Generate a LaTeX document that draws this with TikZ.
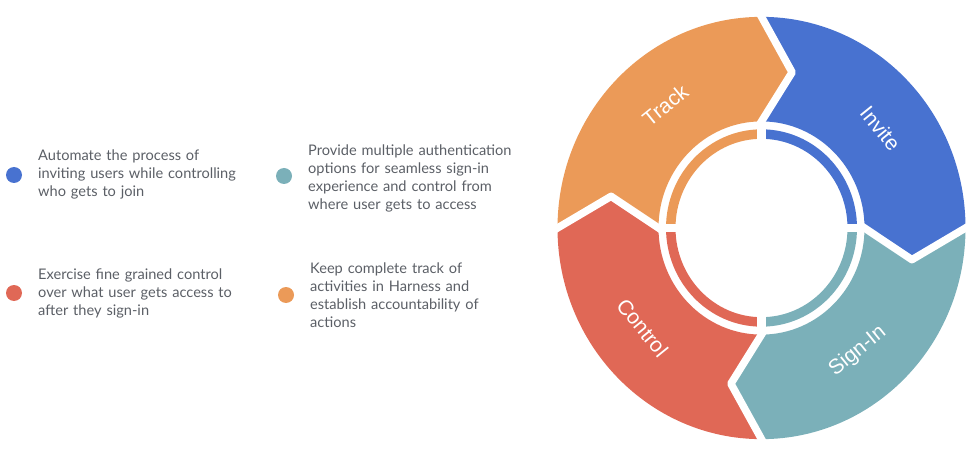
\documentclass[tikz,border=0pt]{standalone}
\usepackage{fontspec}
\setmainfont{Lato}
\newfontfamily\labelfont{Liberation Sans}
\usetikzlibrary{calc}
\definecolor{cInv}{HTML}{4872D0}
\definecolor{cSig}{HTML}{7BB0B9}
\definecolor{cCon}{HTML}{E06856}
\definecolor{cTrk}{HTML}{EB9A58}
\definecolor{txtgrey}{HTML}{5B5F66}
\begin{document}
\begin{tikzpicture}[x=1pt,y=1pt,
  gapline/.style={draw=white,line width=7.5pt,line join=round},
  innerarc/.style={draw=#1,line width=9.5pt},
  lbl/.style={text=white,font=\labelfont\fontsize{21}{24}\selectfont,inner sep=0pt},
  legdot/.style={circle,fill=#1,minimum size=16pt,inner sep=0pt},
  desc/.style={anchor=base west,text=txtgrey,font=\fontsize{14.6}{18}\selectfont,text width=240pt,align=left,inner sep=0pt}]
\useasboundingbox (0,0) rectangle (976,450);
\begin{scope}[shift={(761.5,222)},yscale=1.035]
  \foreach \a/\c in {90/cInv,0/cSig,-90/cCon,180/cTrk} {
    \fill[\c] (\a:204) arc[start angle=\a,end angle=\a-90,radius=204]
      -- (\a-101.5:153.5) -- (\a-90:103)
      arc[start angle=\a-90,end angle=\a,radius=103]
      -- (\a-11.5:153.5) -- cycle;
  }
  \foreach \a in {90,0,-90,180} {
    \coordinate (o) at (\a:204);
    \coordinate (n) at (\a-11.5:153.5);
    \coordinate (i) at (\a:103);
    \draw[gapline] ($(n)!1.15!(o)$) -- (n) -- ($(n)!1.1!(i)$);
  }
  \foreach \a/\c in {90/cInv,0/cSig,-90/cCon,180/cTrk} {
    \draw[innerarc=\c] (\a:90.75) arc[start angle=\a,end angle=\a-90,radius=90.75];
  }
  \draw[white,line width=8.5pt] (0,-99) -- (0,99);
  \draw[white,line width=8.5pt] (-99,0) -- (99,0);
  \node[lbl,rotate=-51] (lInv) at (39:153) {Invite};
  \node[lbl,rotate=39] (lSig) at (-51:153) {Sign-In};
  \node[lbl,rotate=-51] (lCon) at (219:153) {Control};
  \node[lbl,rotate=39] (lTrk) at (129:153) {Track};
\end{scope}
\node[legdot=cInv] (d1) at (14,275) {};
\node[desc] (t1) at (38,289.5) {Automate the process of\\inviting users while controlling\\who gets to join};
\node[legdot=cSig] (d2) at (284,274) {};
\node[desc] (t2) at (308,294.5) {Provide multiple authentication\\options for seamless sign-in\\experience and control from\\where user gets to access};
\node[legdot=cCon] (d3) at (14,157) {};
\node[desc] (t3) at (38,170.5) {Exercise fine grained control\\over what user gets access to\\after they sign-in};
\node[legdot=cTrk] (d4) at (286,155) {};
\node[desc] (t4) at (310,176.5) {Keep complete track of\\activities in Harness and\\establish accountability of\\actions};
\end{tikzpicture}
\end{document}
